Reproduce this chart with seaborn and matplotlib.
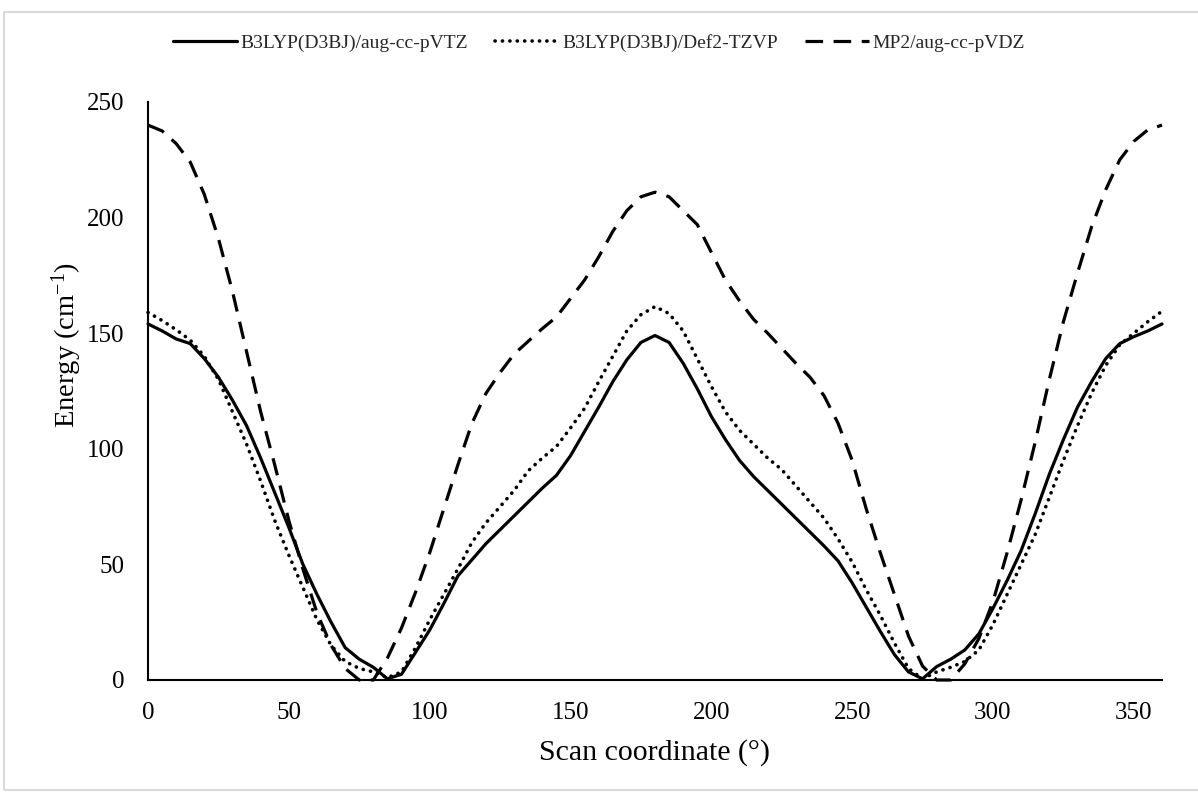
import matplotlib
matplotlib.use("Agg")
import matplotlib.pyplot as plt
import seaborn as sns
import pandas as pd
from matplotlib.patches import Rectangle

angles = list(range(0, 361, 5))

b3lyp_avtz = [154, 151, 147.5, 145.5, 139, 131, 121, 110, 96, 81, 66, 50, 37, 25, 14, 9, 5.5, 0.5,
              2.5, 12, 21.6, 33, 45, 52, 59, 65, 71, 77, 83, 88.5, 97, 107.5, 118, 129, 138.5, 146,
              149, 146, 137, 126, 114, 104, 95, 88, 82, 76, 70, 64, 58, 51.5, 42, 31.5, 21, 11, 3.5,
              0.5, 5.8, 9, 13, 20, 31, 43, 56, 72, 89, 104, 118, 129, 139, 145.5, 148.5, 151, 154]

b3lyp_def2 = [159, 155.5, 151.5, 147, 140, 130, 116, 102, 86, 69, 54, 40, 26, 15, 8, 5, 3.5, 1,
              3.5, 14, 26, 37, 48, 59.5, 68, 75, 82, 90.5, 96, 101, 109, 117.5, 129, 140, 151, 158,
              161.5, 158.5, 151, 139, 127, 116, 108, 102, 96, 91, 84, 77, 70, 61, 51, 39, 28, 16, 5,
              0.5, 3.5, 5.5, 8, 13, 24, 37, 50, 63, 79, 95, 110, 124, 136, 145, 150, 155, 159.5]

mp2_avdz = [240, 237.5, 232, 224, 210, 191, 168, 142, 116, 93, 69, 48, 29, 15, 5, 0, 0, 9.5,
            22.5, 38, 55, 74, 93, 111, 124, 133, 141, 146.5, 152, 157, 165, 173, 183, 194, 203, 209,
            211, 209, 203, 197, 185, 173, 164, 156, 150, 143.5, 137, 131, 123, 111, 95, 74, 55, 37, 19,
            6, 0, 0, 7, 18, 34, 55, 78, 103, 130, 155, 176, 196, 212, 225, 233, 238, 240]

series_names = ["B3LYP(D3BJ)/aug-cc-pVTZ", "B3LYP(D3BJ)/Def2-TZVP", "MP2/aug-cc-pVDZ"]
x_ticks = [0, 50, 100, 150, 200, 250, 300, 350]
y_ticks = [0, 50, 100, 150, 200, 250]

sns.set_theme(style="white")
plt.rcParams['font.family'] = ['Liberation Serif', 'DejaVu Serif']
plt.rcParams['mathtext.fontset'] = 'custom'
plt.rcParams['mathtext.rm'] = 'Liberation Serif'
plt.rcParams['mathtext.it'] = 'Liberation Serif:italic'

fig = plt.figure(figsize=(11.98, 7.94), dpi=100)
ax = fig.add_axes([148/1198, 1-680/794, (1162-148)/1198, (680-102)/794])

lw = 2.3
styles = [
    dict(linestyle='-', linewidth=lw),
    dict(linestyle=(0, (0.05, 2.0)), dash_capstyle='round', linewidth=2.6),
    dict(linestyle=(0, (5.5, 3.3)), linewidth=lw),
]
for name, vals, st in zip(series_names, [b3lyp_avtz, b3lyp_def2, mp2_avdz], styles):
    df = pd.DataFrame({"angle": angles, "energy": vals})
    sns.lineplot(data=df, x="angle", y="energy", ax=ax, color="black",
                 label=name, clip_on=False, **st)

ax.set_xlim(0, 360)
ax.set_ylim(0, 250)
ax.set_xticks(x_ticks)
ax.set_yticks(y_ticks)
ax.tick_params(length=0, labelsize=18, colors='black')
ax.tick_params(axis='x', pad=16)
ax.tick_params(axis='y', pad=17)
for s in ['top', 'right']:
    ax.spines[s].set_visible(False)
for s in ['left', 'bottom']:
    ax.spines[s].set_color('black')
    ax.spines[s].set_linewidth(1.5)

ax.set_xlabel("Scan coordinate (°)", fontsize=21.5, color='black')
ax.set_ylabel("Energy (cm$^{-1}$)", fontsize=20.5, color='black')
ax.xaxis.set_label_coords(0.5, -0.102)
ax.yaxis.set_label_coords(-0.063, 0.58)

leg = ax.legend(loc='center', bbox_to_anchor=(0.5, 1 - 43/794), bbox_transform=fig.transFigure,
                ncol=3, frameon=False, fontsize=14, handlelength=3.3, handletextpad=0.15,
                columnspacing=1.4)

fig.patches.append(Rectangle((4/1198, 1-790/794), 1.2, (790-12)/794, transform=fig.transFigure,
                             fill=False, edgecolor='#d9d9d9', linewidth=1.5, zorder=0))

fig.savefig("out.png", dpi=100, facecolor='white')
